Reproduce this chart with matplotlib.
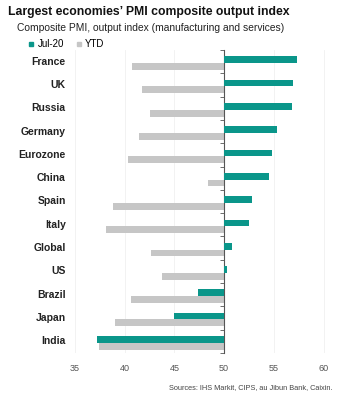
import numpy as np
import matplotlib
matplotlib.use("Agg")
import matplotlib.pyplot as plt
from matplotlib.lines import Line2D
import matplotlib.transforms as mtransforms

countries = ["France", "UK", "Russia", "Germany", "Eurozone", "China", "Spain",
             "Italy", "Global", "US", "Brazil", "Japan", "India"]
jul20 = [57.3, 56.9, 56.8, 55.3, 54.8, 54.5, 52.8, 52.5, 50.8, 50.3, 47.4, 45.0, 37.2]
ytd = [40.7, 41.7, 42.6, 41.4, 40.3, 48.4, 38.8, 38.1, 42.7, 43.8, 40.6, 39.0, 37.4]
xticks = [35, 40, 45, 50, 55, 60]

TEAL = "#0a968a"
GREY = "#c6c6c6"
BASE = 50

plt.rcParams["font.family"] = ["Liberation Sans", "DejaVu Sans"]

fig = plt.figure(figsize=(3.45, 3.97), dpi=100)
ax = fig.add_axes([0.217, 0.111, 0.75, 0.763])

y = np.arange(len(countries))
h = 0.29
jul = np.array(jul20)
yt = np.array(ytd)
ax.barh(y - 0.08, jul - BASE, left=BASE, height=h, color=TEAL, zorder=3)
ax.barh(y + 0.21, yt - BASE, left=BASE, height=h, color=GREY, zorder=2)

ax.set_xlim(35, 61)
ax.set_ylim(len(countries) - 0.5, -0.5)
ax.set_xticks(xticks)
ax.set_xticklabels([str(t) for t in xticks])
ax.tick_params(axis="x", length=0, labelsize=6.5, labelcolor="#555555", pad=8)
ax.grid(axis="x", color="#f0f0f0", linewidth=0.6, zorder=0)

for s in ["top", "right", "bottom"]:
    ax.spines[s].set_visible(False)
ax.spines["left"].set_position(("data", BASE))
ax.spines["left"].set_color("#555555")
ax.spines["left"].set_linewidth(0.8)
ax.set_yticks(y)
ax.set_yticklabels([])
ax.tick_params(axis="y", which="major", length=0)
ax.set_yticks(np.arange(len(countries) + 1) - 0.5, minor=True)
ax.tick_params(axis="y", which="minor", length=3, width=0.6, color="#555555", direction="out")

trans = mtransforms.blended_transform_factory(ax.transAxes, ax.transData)
for yi, name in zip(y, countries):
    ax.text(-0.035, yi, name, transform=trans, ha="right", va="center",
            fontsize=7.5, fontweight="bold", color="#222222")

fig.text(0.023, 0.97, "Largest economies\u2019 PMI composite output index",
         fontsize=8.8, fontweight="bold", ha="left", va="center", color="#111111")
fig.text(0.05, 0.93, "Composite PMI, output index (manufacturing and services)",
         fontsize=7.4, ha="left", va="center", color="#222222")

handles = [Line2D([], [], marker="s", linestyle="none", color=TEAL, markersize=3.5),
           Line2D([], [], marker="s", linestyle="none", color=GREY, markersize=3.5)]
fig.legend(handles, ["Jul-20", "YTD"], loc="center left", bbox_to_anchor=(0.075, 0.889),
           ncol=2, frameon=False, fontsize=7, handletextpad=0.2, columnspacing=1.0,
           handlelength=1.0, borderaxespad=0, borderpad=0)

fig.text(0.965, 0.025, "Sources: IHS Markit, CIPS, au Jibun Bank, Caixin.",
         fontsize=5.3, ha="right", va="center", color="#444444")

fig.savefig("out.png", dpi=100)
